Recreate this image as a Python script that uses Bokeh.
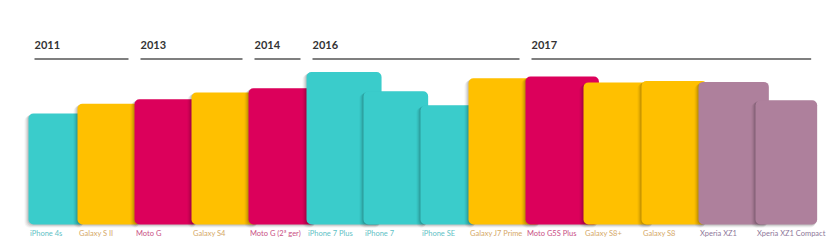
from bokeh.plotting import figure
from bokeh.models import Range1d, ColumnDataSource
from bokeh.core.properties import value
from bokeh.embed import file_html
from bokeh.resources import INLINE

# ---------------- data ----------------
phones = ["iPhone 4s", "Galaxy S II", "Moto G", "Galaxy S4", "Moto G (2ª ger)",
          "iPhone 7 Plus", "iPhone 7", "iPhone SE", "Galaxy J7 Prime", "Moto G5S Plus",
          "Galaxy S8+", "Galaxy S8", "Xperia XZ1", "Xperia XZ1 Compact"]
brands = ["Apple", "Samsung", "Motorola", "Samsung", "Motorola",
          "Apple", "Apple", "Apple", "Samsung", "Motorola",
          "Samsung", "Samsung", "Sony", "Sony"]
years = [2011, 2011, 2013, 2013, 2014,
         2016, 2016, 2016, 2016, 2017,
         2017, 2017, 2017, 2017]
height_mm = [115.2, 125.3, 129.9, 137.0, 141.5,
             158.2, 138.3, 123.8, 151.7, 153.5,
             147.5, 148.9, 148.0, 129.0]
width_mm = [58.6, 66.1, 65.9, 69.8, 70.7,
            77.9, 67.1, 58.6, 75.0, 76.2,
            73.4, 68.1, 73.0, 64.0]
year_labels = [2011, 2013, 2014, 2016, 2017]

# ---------------- layout ----------------
S = 0.9635                     # px per mm
BASE = 224                     # baseline, px from top
slot_px = [28, 77, 134, 191, 248, 306, 363, 420, 468, 525, 583, 641, 698, 755]


def dx(px):
    return px / S


def dy(px_from_top):
    return (BASE - px_from_top) / S


fill = {"Apple": "#3acccb", "Samsung": "#ffc000", "Motorola": "#dc005b", "Sony": "#ae809c"}
tcol = {"Apple": "#5fc2c6", "Samsung": "#d5a867", "Motorola": "#c94f85", "Sony": "#8e789a"}

p = figure(width=840, height=246, x_range=Range1d(0, dx(840)), y_range=Range1d(dy(246), dy(0)),
           output_backend="svg", toolbar_location=None, min_border=0,
           x_axis_type=None, y_axis_type=None)
p.grid.visible = False
p.outline_line_color = None
p.background_fill_color = "white"
p.border_fill_color = "white"

for i, name in enumerate(phones):
    L = dx(slot_px[i])
    src = ColumnDataSource(dict(left=[L], right=[L + width_mm[i]], top=[height_mm[i]], bottom=[0]))
    for d, a in [(4, 0.04), (3, 0.05), (2, 0.07), (1, 0.10)]:
        p.quad(left=L - dx(d), right=L + width_mm[i] - dx(d) * 0.5,
               top=height_mm[i] - dx(d) * 0.6, bottom=-dx(d) * 0.8,
               fill_color="black", fill_alpha=a, line_color=None, border_radius=5)
    p.quad(left="left", right="right", top="top", bottom="bottom", source=src,
           fill_color=fill[brands[i]], line_color=None, border_radius=5)

lab = ColumnDataSource(dict(x=[dx(s + 1.5) for s in slot_px],
                            y=[dy(232.5)] * len(phones),
                            text=phones,
                            color=[tcol[b] for b in brands]))
p.text(x="x", y="y", text="text", source=lab, text_color="color",
       text_font=value("Lato"), text_font_size="7.5px", text_baseline="middle", text_align="left")

# year headers
starts, ends = [], []
for k, yr in enumerate(year_labels):
    idx = [i for i, y in enumerate(years) if y == yr]
    s = slot_px[idx[0]]
    if k + 1 < len(year_labels):
        nxt = [i for i, y in enumerate(years) if y == year_labels[k + 1]][0]
        e = slot_px[nxt]
    else:
        e = slot_px[idx[-1]] + width_mm[idx[-1]] * S
    starts.append(dx(s + 6))
    ends.append(dx(e - 6))

hdr = ColumnDataSource(dict(x0=starts, x1=ends, y=[dy(58.5)] * len(starts),
                            ty=[dy(44.5)] * len(starts), text=[str(y) for y in year_labels]))
p.segment(x0="x0", x1="x1", y0="y", y1="y", source=hdr, line_color="#555555", line_width=1.5)
p.text(x="x0", y="ty", text="text", source=hdr, text_color="#333333",
       text_font=value("Lato"), text_font_style="bold", text_font_size="11px",
       text_baseline="middle", text_align="left")

open("out.html", "w").write(file_html(p, INLINE))
